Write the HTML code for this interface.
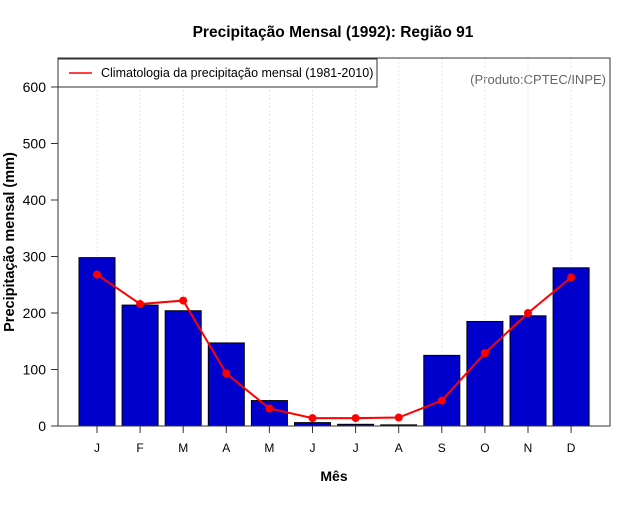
<!DOCTYPE html>
<html><head><meta charset="utf-8"><style>
body{margin:0;background:#fff;font-family:"Liberation Sans",sans-serif}
svg text{font-family:"Liberation Sans",sans-serif}
</style></head><body>
<svg id="chart" width="640" height="500" xmlns="http://www.w3.org/2000/svg">
<rect width="640" height="500" fill="#fff"/>
<text x="333" y="37" text-anchor="middle" font-size="15.5" font-weight="bold">Precipitação Mensal (1992): Região 91</text>
<text x="606" y="84" text-anchor="end" font-size="13" fill="#666">(Produto:CPTEC/INPE)</text>
<text x="334" y="481" text-anchor="middle" font-size="14" font-weight="bold">Mês</text>
<text transform="translate(14,242) rotate(-90)" text-anchor="middle" font-size="14.5" font-weight="bold">Precipitação mensal (mm)</text>
<g id="grid"></g><g id="bars"></g><g id="line"></g><g id="axes"></g>
<rect x="58" y="58" width="552" height="368" fill="none" stroke="#333" stroke-width="1"/>
<g>
<rect x="58" y="59" width="319" height="28" fill="#fff" stroke="#333"/>
<line x1="69" y1="73" x2="92" y2="73" stroke="red" stroke-width="1.5"/>
<text x="101" y="77" font-size="12.5">Climatologia da precipitação mensal (1981-2010)</text>
</g>
</svg>
<script>
const months=["J","F","M","A","M","J","J","A","S","O","N","D"];
const observed=[298,214,204,147,45,6,3,2,125,185,195,280];
const climatology=[268,216,222,93,31,14,14,15,45,129,200,263];
const yTicks=[0,100,200,300,400,500,600];
const NS="http://www.w3.org/2000/svg";
const y=v=>426-v*(339/600);
const x=i=>97+i*43.1;
function mk(t,a,p){const e=document.createElementNS(NS,t);for(const k in a)e.setAttribute(k,a[k]);p.appendChild(e);return e;}
const grid=document.getElementById('grid'),bars=document.getElementById('bars'),line=document.getElementById('line'),axes=document.getElementById('axes');
months.forEach((m,i)=>{
 const g=mk('line',{x1:x(i),x2:x(i),y1:58,y2:426,stroke:'#e4e4e4','stroke-dasharray':'2,2'},grid);
 
 
 const b=mk('rect',{x:x(i)-18,y:y(observed[i]),width:36,height:426-y(observed[i]),fill:'#0000cd',stroke:'#000','stroke-width':1},bars);
 
 
 const t=mk('line',{x1:x(i),x2:x(i),y1:426,y2:433,stroke:'#333'},axes);
 
 
 const l=mk('text',{x:x(i),y:452,'text-anchor':'middle','font-size':12},axes);
 l.textContent=m;
 
 
});
const pl=mk('polyline',{points:climatology.map((v,i)=>x(i)+','+y(v)).join(' '),fill:'none',stroke:'red','stroke-width':2},line);


climatology.forEach((v,i)=>{
 const c=mk('circle',{cx:x(i),cy:y(v),r:4,fill:'red'},line);
 
 
});
yTicks.forEach(v=>{
 const t=mk('line',{x1:51,x2:58,y1:y(v),y2:y(v),stroke:'#333'},axes);
 
 
 const l=mk('text',{x:46,y:y(v)+5,'text-anchor':'end','font-size':14},axes);
 l.textContent=v;
 
 
});
</script>
</body></html>
